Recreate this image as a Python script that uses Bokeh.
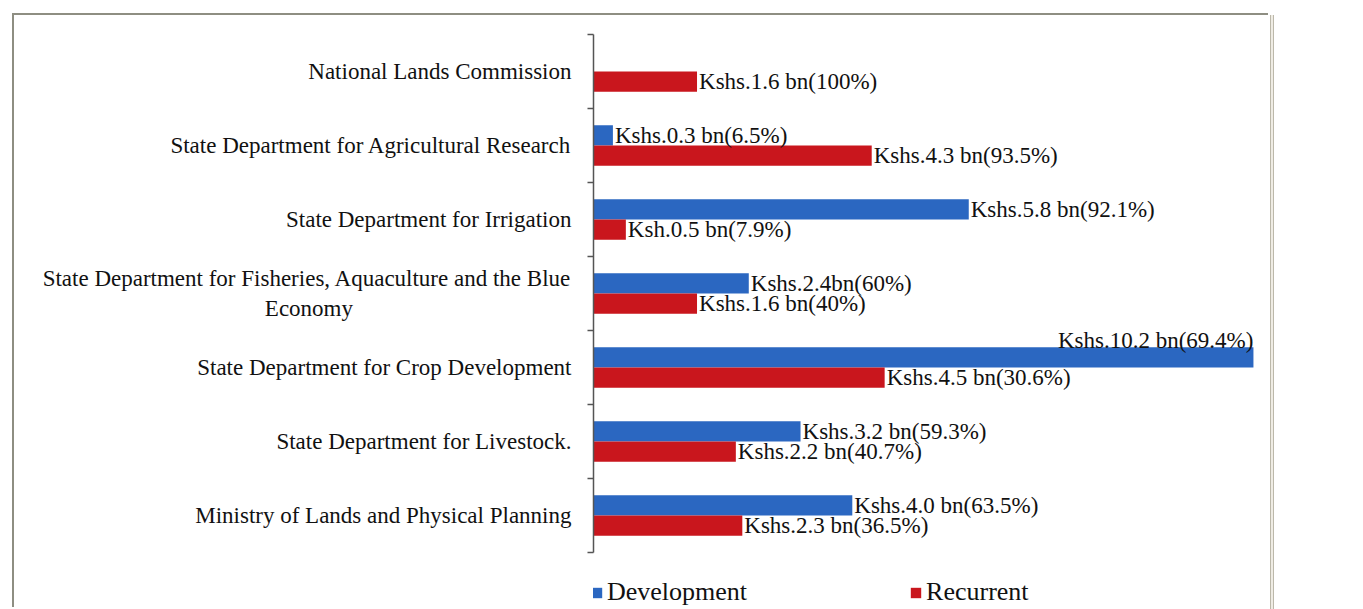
from bokeh.plotting import figure
from bokeh.models import ColumnDataSource, FixedTicker, Legend, LegendItem
from bokeh.embed import file_html
from bokeh.resources import INLINE
from bokeh.core.properties import value

# ---- data (bottom to top) ----
categories = [
    "Ministry of Lands and Physical Planning",
    "State Department for Livestock.",
    "State Department for Crop Development",
    "State Department for Fisheries, Aquaculture and the Blue\nEconomy",
    "State Department for Irrigation",
    "State Department for Agricultural Research",
    "National Lands Commission",
]
development = [4.0, 3.2, 10.2, 2.4, 5.8, 0.3, 0.0]
recurrent = [2.3, 2.2, 4.5, 1.6, 0.5, 4.3, 1.6]
dev_labels = ["Kshs.4.0 bn(63.5%)", "Kshs.3.2 bn(59.3%)", "Kshs.10.2 bn(69.4%)",
              "Kshs.2.4bn(60%)", "Kshs.5.8 bn(92.1%)", "Kshs.0.3 bn(6.5%)", ""]
rec_labels = ["Kshs.2.3 bn(36.5%)", "Kshs.2.2 bn(40.7%)", "Kshs.4.5 bn(30.6%)",
              "Kshs.1.6 bn(40%)", "Ksh.0.5 bn(7.9%)", "Kshs.4.3 bn(93.5%)",
              "Kshs.1.6 bn(100%)"]
series_names = ["Development", "Recurrent"]

BLUE = "#2b67c1"
RED = "#c9161d"
FONT = "Liberation Serif"
X_END = 10.34
BAR_H = 0.275
OFF = BAR_H / 2

n = len(categories)
centers = [i + 0.5 for i in range(n)]

p = figure(width=1256, height=594, x_range=(0, X_END), y_range=(-0.77, n),
           output_backend="svg", toolbar_location=None,
           min_border_left=579, min_border_top=19, min_border_right=8,
           min_border_bottom=0)
p.margin = (15, 0, 0, 14)
p.styles = {"box-shadow": "-2px -2px 0 0 #8e8e82, 1px 0 0 0 #bcb8aa, "
                          "3px 0 0 0 #efece4, 4px 0 0 0 #bcb8aa"}
p.outline_line_color = None
p.background_fill_color = "white"
p.border_fill_color = "white"
p.xgrid.visible = False
p.ygrid.visible = False
p.xaxis.visible = False

dev_src = ColumnDataSource(dict(y=[c + OFF for c in centers], right=development,
                                label=dev_labels))
rec_src = ColumnDataSource(dict(y=[c - OFF for c in centers], right=recurrent,
                                label=rec_labels))
r_dev = p.hbar(y="y", left=0, right="right", height=BAR_H, source=dev_src,
               fill_color=BLUE, line_color=None)
r_rec = p.hbar(y="y", left=0, right="right", height=BAR_H, source=rec_src,
               fill_color=RED, line_color=None)

# data labels: outside end, or above the bar end when it would overflow
def split(vals, ys, labels):
    norm = dict(x=[], y=[], t=[])
    over = dict(x=[], y=[], t=[])
    for v, y, t in zip(vals, ys, labels):
        if not t:
            continue
        if v > 0.8 * X_END:
            over["x"].append(v); over["y"].append(y + 0.23); over["t"].append(t)
        else:
            norm["x"].append(v); norm["y"].append(y); norm["t"].append(t)
    return norm, over

for vals, ys, labels in [(development, dev_src.data["y"], dev_labels),
                         (recurrent, rec_src.data["y"], rec_labels)]:
    norm, over = split(vals, ys, labels)
    p.text(x=norm["x"], y=norm["y"], text=norm["t"], text_align="left",
           text_baseline="middle", x_offset=2, text_font=value(FONT),
           text_font_size="23px", text_color="#111111")
    if over["t"]:
        p.text(x=over["x"], y=over["y"], text=over["t"], text_align="right",
               text_baseline="middle", x_offset=0, text_font=value(FONT),
               text_font_size="23px", text_color="#111111")

# centre the lines of wrapped category labels (pad short lines with no-break spaces)
def centre_lines(label):
    lines = label.split("\n")
    if len(lines) == 1:
        return label
    longest = max(len(l) for l in lines)
    out = []
    for l in lines:
        pad = int(round((longest - len(l)) * 0.78))
        out.append(l + "\u00a0" * pad)
    return "\n".join(out)

# y axis with category labels and boundary ticks
ax = p.yaxis[0]
ax.ticker = FixedTicker(ticks=centers, minor_ticks=list(range(n + 1)))
ax.major_label_overrides = {c: centre_lines(lab) for c, lab in zip(centers, categories)}
ax.bounds = (0, n)
ax.major_tick_line_color = None
ax.major_tick_out = 0
ax.major_tick_in = 0
ax.minor_tick_out = 6
ax.minor_tick_in = 0
ax.minor_tick_line_color = "#555555"
ax.minor_tick_line_width = 1.5
ax.axis_line_color = "#555555"
ax.axis_line_width = 1.5
ax.major_label_standoff = 16
ax.major_label_text_font = FONT
ax.major_label_text_font_size = "23px"
ax.major_label_text_color = "#111111"

legend = Legend(items=[LegendItem(label=series_names[0], renderers=[r_dev]),
                       LegendItem(label=series_names[1], renderers=[r_rec])],
                orientation="horizontal", location=(-3, 2),
                glyph_width=13, glyph_height=13, label_standoff=4, spacing=162,
                padding=0, margin=0, border_line_color=None,
                background_fill_alpha=0, label_text_font=FONT,
                label_text_font_size="26px", label_text_color="#111111")
p.add_layout(legend)

open("out.html", "w").write(file_html(p, INLINE))
